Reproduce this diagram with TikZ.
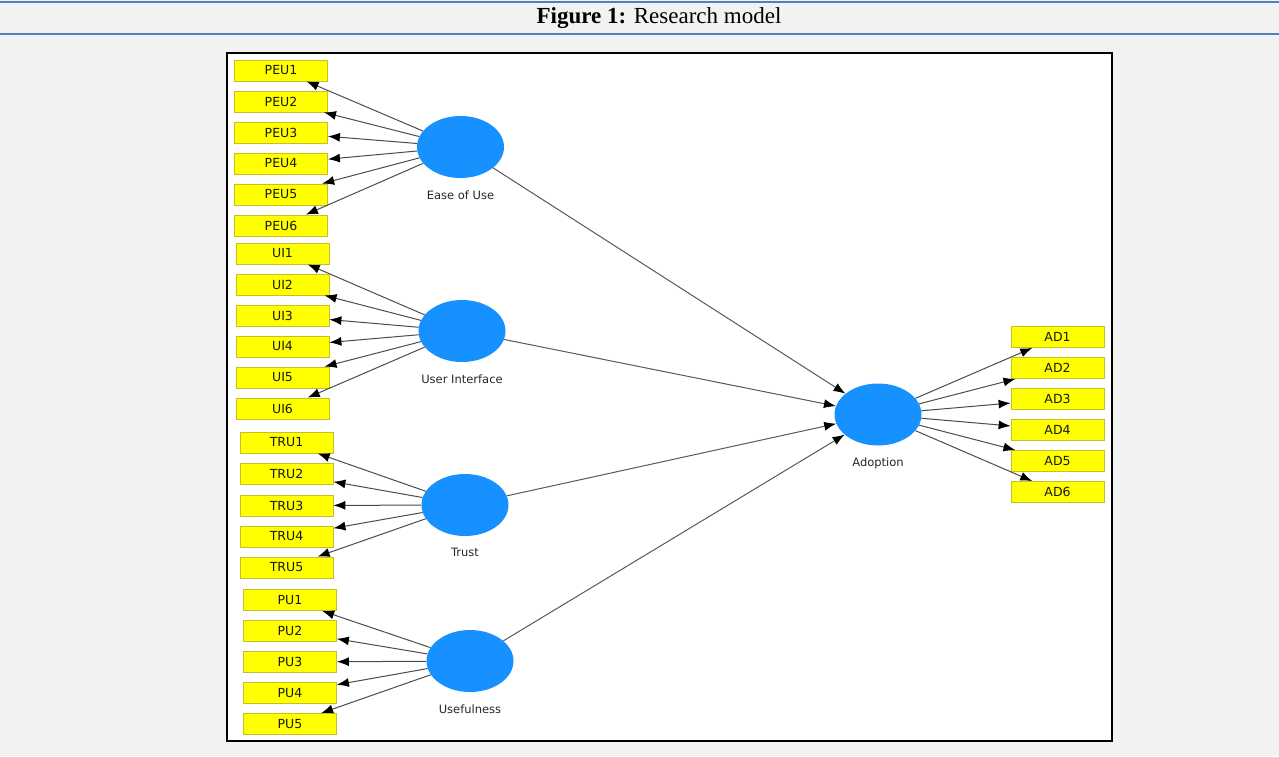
\documentclass[tikz,border=0pt]{standalone}
\usepackage{fontspec}
\setmainfont{Liberation Serif}
\newfontfamily\plsfont{DejaVu Sans}
\usetikzlibrary{positioning, arrows.meta, shapes.geometric}

\definecolor{pagegray}{RGB}{242,242,242}
\definecolor{rule}{RGB}{79,129,189}
\definecolor{latentblue}{RGB}{22,145,255}
\definecolor{itemyellow}{RGB}{255,255,0}
\definecolor{itemedge}{RGB}{200,190,40}

\begin{document}
\begin{tikzpicture}[x=1pt, y=-1pt,
    % Styles
    item/.style={draw=itemedge, fill=itemyellow, line width=0.8pt, minimum width=93pt, minimum height=21pt, inner sep=0pt, font=\plsfont\fontsize{12.5}{13}\selectfont, text=black!90},
    latent/.style={ellipse, fill=latentblue, draw=none, minimum width=87pt, minimum height=62pt, inner sep=0pt},
    latent-label/.style={font=\plsfont\fontsize{11.5}{12}\selectfont, text=black!85, inner sep=0pt, below=12pt},
    load-arrow/.style={-{Latex[length=12pt,width=9pt,color=black]}, line width=1pt, draw=black!70},
    path-arrow/.style={-{Latex[length=12pt,width=9pt,color=black]}, line width=1pt, draw=black!65},
]

% Page background and title rules
\fill[pagegray] (0,0) rectangle (1279,756);
\useasboundingbox (0,0) rectangle (1279,756);
\draw[rule, line width=2.2pt] (0,2) -- (1279,2);
\draw[rule, line width=2.2pt] (0,34) -- (1279,34);
\node[font=\fontsize{23}{25}\selectfont] (title) at (659,18.5) {\textbf{Figure 1:} Research model};

% Model frame
\draw[fill=white, line width=2pt] (227,53) rectangle (1112,741);

% Latent variables
\node[latent] (ease) at (460.5,147) {};
\node[latent-label] (ease-lbl) at (ease.south) {Ease of Use};
\node[latent] (ui) at (462,331) {};
\node[latent-label] (ui-lbl) at (ui.south) {User Interface};
\node[latent] (trust) at (465,505) {};
\node[latent-label] (trust-lbl) at (trust.south) {Trust};
\node[latent] (useful) at (470,661) {};
\node[latent-label] (useful-lbl) at (useful.south) {Usefulness};
\node[latent] (adoption) at (878,414.5) {};
\node[latent-label] (adoption-lbl) at (adoption.south) {Adoption};

% Ease of Use indicators
\node[item] (peu1) at (281,70.5) {PEU1};   \draw[load-arrow] (ease) -- (peu1);
\node[item] (peu2) at (281,101.5) {PEU2};  \draw[load-arrow] (ease) -- (peu2);
\node[item] (peu3) at (281,132.5) {PEU3};  \draw[load-arrow] (ease) -- (peu3);
\node[item] (peu4) at (281,163.5) {PEU4};  \draw[load-arrow] (ease) -- (peu4);
\node[item] (peu5) at (281,194.5) {PEU5};  \draw[load-arrow] (ease) -- (peu5);
\node[item] (peu6) at (281,225.5) {PEU6};  \draw[load-arrow] (ease) -- (peu6);

% User Interface indicators
\node[item] (ui1) at (282.5,253.5) {UI1};  \draw[load-arrow] (ui) -- (ui1);
\node[item] (ui2) at (282.5,284.5) {UI2};  \draw[load-arrow] (ui) -- (ui2);
\node[item] (ui3) at (282.5,315.5) {UI3};  \draw[load-arrow] (ui) -- (ui3);
\node[item] (ui4) at (282.5,346.5) {UI4};  \draw[load-arrow] (ui) -- (ui4);
\node[item] (ui5) at (282.5,377.5) {UI5};  \draw[load-arrow] (ui) -- (ui5);
\node[item] (ui6) at (282.5,408.5) {UI6};  \draw[load-arrow] (ui) -- (ui6);

% Trust indicators
\node[item] (tru1) at (286.5,442.5) {TRU1};  \draw[load-arrow] (trust) -- (tru1);
\node[item] (tru2) at (286.5,473.5) {TRU2};  \draw[load-arrow] (trust) -- (tru2);
\node[item] (tru3) at (286.5,505.5) {TRU3};  \draw[load-arrow] (trust) -- (tru3);
\node[item] (tru4) at (286.5,536.5) {TRU4};  \draw[load-arrow] (trust) -- (tru4);
\node[item] (tru5) at (286.5,567.5) {TRU5};  \draw[load-arrow] (trust) -- (tru5);

% Usefulness indicators
\node[item] (pu1) at (290,600) {PU1};  \draw[load-arrow] (useful) -- (pu1);
\node[item] (pu2) at (290,631) {PU2};  \draw[load-arrow] (useful) -- (pu2);
\node[item] (pu3) at (290,662) {PU3};  \draw[load-arrow] (useful) -- (pu3);
\node[item] (pu4) at (290,693) {PU4};  \draw[load-arrow] (useful) -- (pu4);
\node[item] (pu5) at (290,724) {PU5};  \draw[load-arrow] (useful) -- (pu5);

% Adoption indicators
\node[item] (ad1) at (1057.5,337) {AD1};  \draw[load-arrow] (adoption) -- (ad1);
\node[item] (ad2) at (1057.5,368) {AD2};  \draw[load-arrow] (adoption) -- (ad2);
\node[item] (ad3) at (1057.5,399) {AD3};  \draw[load-arrow] (adoption) -- (ad3);
\node[item] (ad4) at (1057.5,430) {AD4};  \draw[load-arrow] (adoption) -- (ad4);
\node[item] (ad5) at (1057.5,461) {AD5};  \draw[load-arrow] (adoption) -- (ad5);
\node[item] (ad6) at (1057.5,492) {AD6};  \draw[load-arrow] (adoption) -- (ad6);

% Structural paths
\draw[path-arrow] (ease) -- (adoption);
\draw[path-arrow] (ui) -- (adoption);
\draw[path-arrow] (trust) -- (adoption);
\draw[path-arrow] (useful) -- (adoption);

\end{tikzpicture}
\end{document}
